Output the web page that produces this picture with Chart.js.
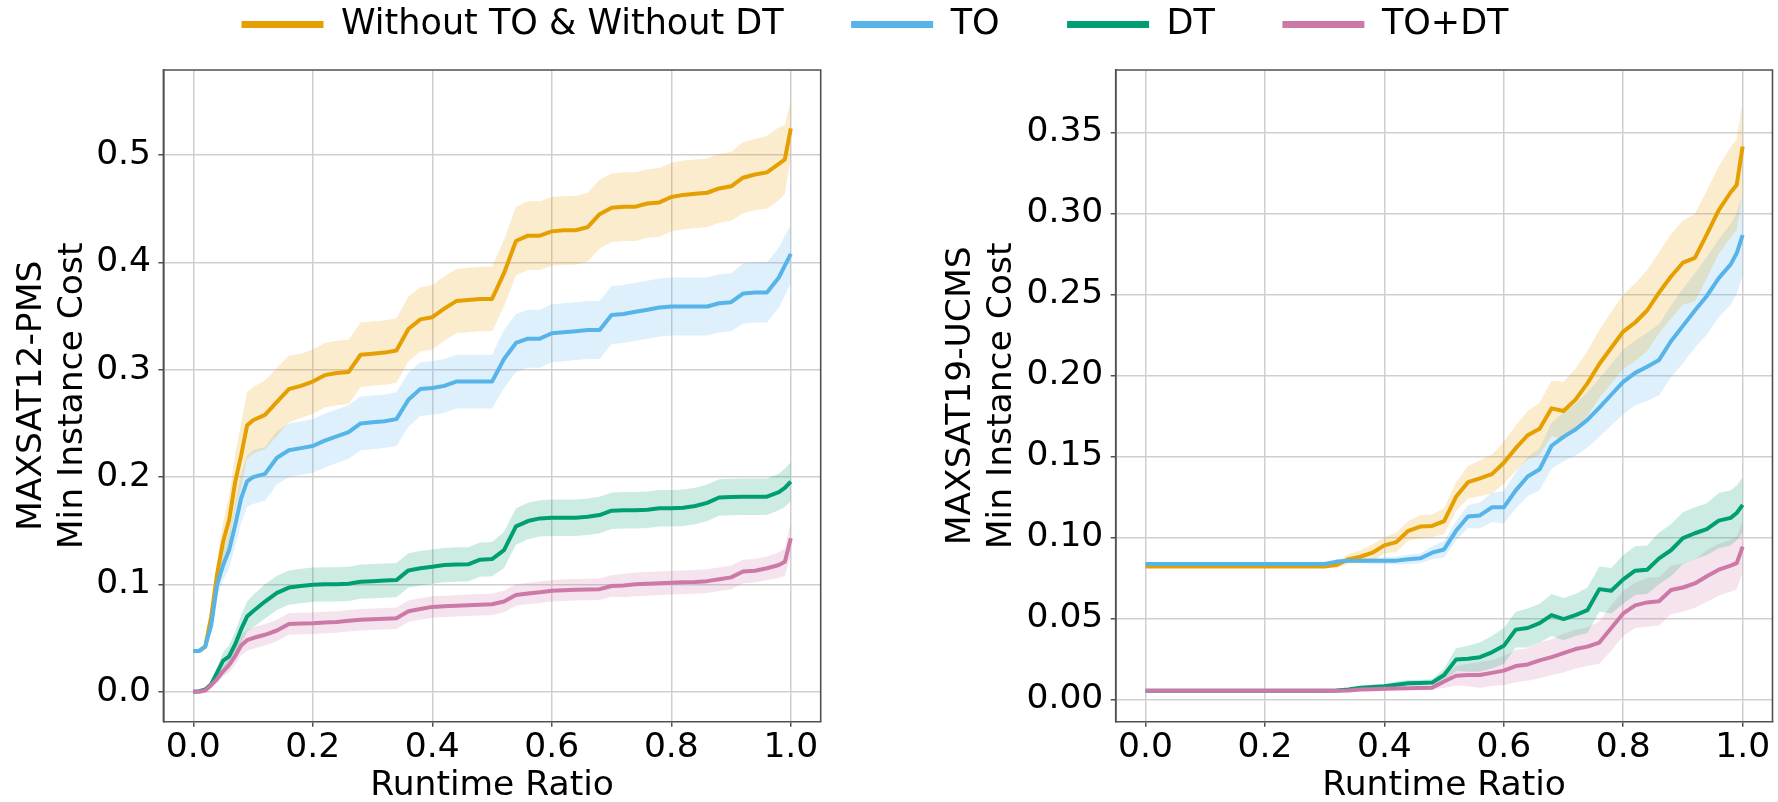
<!DOCTYPE html>
<html>
<head>
<meta charset="utf-8">
<title>Min Instance Cost vs Runtime Ratio</title>
<script src="https://cdn.jsdelivr.net/npm/chart.js@4.4.1/dist/chart.umd.min.js"></script>
<style>
  html, body { margin: 0; padding: 0; background: #fff; }
  #wrap { position: relative; width: 1778px; height: 802px; }
  #pms-chart { position: absolute; left: 0; top: 0; }
  #ucms-chart { position: absolute; left: 900px; top: 0; }
</style>
</head>
<body>
<div id="wrap">
  <canvas id="pms-chart" width="1778" height="802"></canvas>
  <canvas id="ucms-chart" width="878" height="802"></canvas>
</div>
<script>
// Series
const seriesNames = ["Without TO & Without DT", "TO", "DT", "TO+DT"];
const seriesColors = ["#E69F00", "#56B4E9", "#009E73", "#CC79A7"];
const bandColors = ["rgba(230,159,0,0.2)", "rgba(86,180,233,0.2)", "rgba(0,158,115,0.2)", "rgba(204,121,167,0.2)"];

// Tick labels
const ratioTicks = [0, 0.2, 0.4, 0.6, 0.8, 1.0];
const pmsCostTicks = [0, 0.1, 0.2, 0.3, 0.4, 0.5];
const ucmsCostTicks = [0, 0.05, 0.10, 0.15, 0.20, 0.25, 0.30, 0.35];

// MAXSAT12-PMS: runtime ratio samples
const pmsRatio = [0, 0.01, 0.02, 0.03, 0.04, 0.05, 0.06, 0.07, 0.08, 0.09, 0.10,
  0.12, 0.14, 0.16, 0.18, 0.20, 0.22, 0.24, 0.26, 0.28, 0.30,
  0.32, 0.34, 0.36, 0.38, 0.40, 0.42, 0.44, 0.46, 0.48, 0.50,
  0.52, 0.54, 0.56, 0.58, 0.60, 0.62, 0.64, 0.66, 0.68, 0.70,
  0.72, 0.74, 0.76, 0.78, 0.80, 0.82, 0.84, 0.86, 0.88, 0.90,
  0.92, 0.94, 0.96, 0.98, 0.99, 1.00];

// mean min instance cost
const pmsPlain = [0.038, 0.038, 0.042, 0.070, 0.110, 0.140, 0.160, 0.195, 0.220, 0.248, 0.253,
  0.258, 0.270, 0.282, 0.285, 0.289, 0.295, 0.297, 0.298, 0.314, 0.315,
  0.316, 0.318, 0.338, 0.347, 0.349, 0.357, 0.364, 0.365, 0.366, 0.366,
  0.390, 0.420, 0.425, 0.425, 0.429, 0.430, 0.430, 0.433, 0.445, 0.451,
  0.452, 0.452, 0.455, 0.456, 0.461, 0.463, 0.464, 0.465, 0.469, 0.471,
  0.479, 0.482, 0.484, 0.492, 0.496, 0.525];
const pmsTO = [0.038, 0.038, 0.042, 0.062, 0.100, 0.118, 0.132, 0.155, 0.180, 0.196, 0.200,
  0.203, 0.218, 0.225, 0.227, 0.229, 0.234, 0.238, 0.242, 0.250, 0.251,
  0.252, 0.254, 0.272, 0.282, 0.283, 0.285, 0.289, 0.289, 0.289, 0.289,
  0.310, 0.325, 0.329, 0.329, 0.334, 0.335, 0.336, 0.337, 0.337, 0.351,
  0.352, 0.354, 0.356, 0.358, 0.359, 0.359, 0.359, 0.359, 0.362, 0.363,
  0.371, 0.372, 0.372, 0.386, 0.397, 0.408];
const pmsDT = [0, 0.0005, 0.002, 0.007, 0.018, 0.029, 0.033, 0.044, 0.058, 0.070, 0.075,
  0.084, 0.092, 0.097, 0.0985, 0.0997, 0.100, 0.100, 0.1005, 0.1025, 0.103,
  0.1035, 0.104, 0.113, 0.115, 0.1165, 0.118, 0.1185, 0.1187, 0.123, 0.1236,
  0.132, 0.154, 0.159, 0.1615, 0.162, 0.162, 0.162, 0.163, 0.1646, 0.1687,
  0.169, 0.169, 0.1695, 0.171, 0.171, 0.1715, 0.173, 0.176, 0.181, 0.1815,
  0.1817, 0.1817, 0.1817, 0.186, 0.190, 0.1957];
const pmsTODT = [0, 0, 0.001, 0.006, 0.012, 0.019, 0.025, 0.033, 0.043, 0.048, 0.050,
  0.053, 0.057, 0.063, 0.0635, 0.0637, 0.0645, 0.065, 0.066, 0.067, 0.0675,
  0.068, 0.0685, 0.075, 0.077, 0.079, 0.0795, 0.080, 0.0805, 0.081, 0.0815,
  0.084, 0.090, 0.0915, 0.0926, 0.094, 0.0945, 0.095, 0.0952, 0.0955, 0.0985,
  0.099, 0.100, 0.1005, 0.101, 0.1016, 0.102, 0.1023, 0.103, 0.1047, 0.1065,
  0.112, 0.1127, 0.115, 0.118, 0.121, 0.1429];

// std of the cost (shaded band)
const pmsPlainStd = [0.001, 0.001, 0.002, 0.006, 0.012, 0.018, 0.022, 0.026, 0.030, 0.031, 0.031,
  0.032, 0.032, 0.031, 0.030, 0.030, 0.030, 0.030, 0.030, 0.030, 0.030,
  0.030, 0.030, 0.030, 0.030, 0.030, 0.030, 0.030, 0.030, 0.030, 0.030,
  0.031, 0.032, 0.032, 0.032, 0.032, 0.032, 0.032, 0.032, 0.032, 0.032,
  0.032, 0.032, 0.032, 0.032, 0.032, 0.032, 0.032, 0.032, 0.032, 0.032,
  0.033, 0.033, 0.034, 0.034, 0.032, 0.027];
const pmsTOStd = [0.001, 0.001, 0.002, 0.006, 0.010, 0.014, 0.017, 0.020, 0.023, 0.024, 0.025,
  0.025, 0.025, 0.025, 0.025, 0.025, 0.025, 0.025, 0.025, 0.025, 0.025,
  0.025, 0.025, 0.025, 0.025, 0.025, 0.025, 0.025, 0.025, 0.025, 0.025,
  0.027, 0.027, 0.027, 0.027, 0.027, 0.027, 0.027, 0.027, 0.027, 0.027,
  0.027, 0.027, 0.027, 0.027, 0.027, 0.027, 0.027, 0.027, 0.027, 0.027,
  0.028, 0.028, 0.028, 0.028, 0.028, 0.027];
const pmsDTStd = [0, 0.0005, 0.001, 0.003, 0.005, 0.008, 0.010, 0.012, 0.013, 0.014, 0.015,
  0.016, 0.016, 0.016, 0.016, 0.016, 0.016, 0.016, 0.016, 0.016, 0.016,
  0.016, 0.016, 0.016, 0.016, 0.016, 0.016, 0.016, 0.016, 0.016, 0.016,
  0.017, 0.017, 0.017, 0.017, 0.017, 0.017, 0.017, 0.017, 0.017, 0.017,
  0.017, 0.017, 0.017, 0.017, 0.017, 0.017, 0.017, 0.017, 0.017, 0.017,
  0.017, 0.017, 0.017, 0.017, 0.018, 0.018];
const pmsTODTStd = [0, 0, 0.001, 0.002, 0.004, 0.005, 0.007, 0.008, 0.009, 0.010, 0.010,
  0.010, 0.010, 0.010, 0.010, 0.010, 0.010, 0.010, 0.010, 0.010, 0.010,
  0.010, 0.010, 0.010, 0.010, 0.010, 0.010, 0.010, 0.010, 0.010, 0.010,
  0.010, 0.010, 0.010, 0.010, 0.010, 0.010, 0.010, 0.010, 0.010, 0.010,
  0.011, 0.011, 0.011, 0.011, 0.011, 0.011, 0.011, 0.011, 0.011, 0.011,
  0.011, 0.011, 0.011, 0.012, 0.013, 0.016];

// MAXSAT19-UCMS: runtime ratio samples
const ucmsRatio = [0, 0.05, 0.10, 0.15, 0.20, 0.25,
  0.30, 0.32, 0.34, 0.36, 0.38, 0.40, 0.42, 0.44, 0.46, 0.48,
  0.50, 0.52, 0.54, 0.56, 0.58, 0.60, 0.62, 0.64, 0.66, 0.68,
  0.70, 0.72, 0.74, 0.76, 0.78, 0.80, 0.82, 0.84, 0.86, 0.88,
  0.90, 0.92, 0.94, 0.96, 0.98, 0.99, 1.00];

const ucmsPlain = [0.082, 0.082, 0.082, 0.082, 0.082, 0.082,
  0.082, 0.083, 0.0865, 0.088, 0.0905, 0.095, 0.097, 0.104, 0.1066, 0.107,
  0.110, 0.125, 0.134, 0.1364, 0.139, 0.146, 0.155, 0.163, 0.167, 0.1796,
  0.178, 0.185, 0.195, 0.207, 0.217, 0.227, 0.2326, 0.240, 0.251, 0.261,
  0.2695, 0.2725, 0.287, 0.302, 0.313, 0.3175, 0.3412];
const ucmsTO = [0.0835, 0.0835, 0.0835, 0.0835, 0.0835, 0.0835,
  0.0835, 0.085, 0.0855, 0.0855, 0.0855, 0.0855, 0.0856, 0.0864, 0.087, 0.0905,
  0.0925, 0.104, 0.1128, 0.1135, 0.1185, 0.1185, 0.129, 0.1375, 0.142, 0.1565,
  0.162, 0.1665, 0.1725, 0.180, 0.188, 0.196, 0.2015, 0.2053, 0.2095, 0.221,
  0.2305, 0.2400, 0.249, 0.260, 0.2685, 0.2753, 0.2866];
const ucmsDT = [0.0053, 0.0053, 0.0053, 0.0053, 0.0053, 0.0053,
  0.0053, 0.0055, 0.006, 0.0072, 0.0076, 0.008, 0.009, 0.0099, 0.0101, 0.0103,
  0.015, 0.0245, 0.025, 0.026, 0.029, 0.033, 0.043, 0.044, 0.047, 0.052,
  0.0495, 0.052, 0.055, 0.068, 0.067, 0.074, 0.0794, 0.080, 0.087, 0.092,
  0.0995, 0.1025, 0.105, 0.1103, 0.112, 0.115, 0.120];
const ucmsTODT = [0.0053, 0.0053, 0.0053, 0.0053, 0.0053, 0.0053,
  0.0053, 0.0053, 0.0055, 0.006, 0.0062, 0.0065, 0.0067, 0.0068, 0.007, 0.0072,
  0.011, 0.0145, 0.015, 0.015, 0.0163, 0.0177, 0.0205, 0.0215, 0.024, 0.026,
  0.0285, 0.031, 0.0325, 0.035, 0.044, 0.053, 0.058, 0.0598, 0.0605, 0.0675,
  0.069, 0.0715, 0.076, 0.080, 0.0825, 0.084, 0.0942];

const ucmsPlainStd = [0.0005, 0.0005, 0.0005, 0.0005, 0.0005, 0.0005,
  0.001, 0.002, 0.003, 0.004, 0.005, 0.005, 0.006, 0.006, 0.007, 0.007,
  0.008, 0.009, 0.010, 0.011, 0.012, 0.013, 0.014, 0.015, 0.016, 0.017,
  0.018, 0.019, 0.020, 0.021, 0.022, 0.023, 0.024, 0.025, 0.025, 0.026,
  0.026, 0.027, 0.027, 0.027, 0.028, 0.028, 0.028];
const ucmsTOStd = [0.0005, 0.0005, 0.0005, 0.0005, 0.0005, 0.0005,
  0.0005, 0.001, 0.001, 0.0015, 0.002, 0.002, 0.0025, 0.003, 0.003, 0.004,
  0.005, 0.006, 0.007, 0.008, 0.009, 0.010, 0.011, 0.012, 0.013, 0.014,
  0.015, 0.016, 0.017, 0.018, 0.019, 0.020, 0.020, 0.021, 0.022, 0.022,
  0.023, 0.023, 0.024, 0.024, 0.025, 0.025, 0.025];
const ucmsDTStd = [0.0005, 0.0005, 0.0005, 0.0005, 0.0005, 0.0005,
  0.0005, 0.001, 0.001, 0.001, 0.0015, 0.0015, 0.002, 0.002, 0.002, 0.002,
  0.004, 0.007, 0.008, 0.009, 0.010, 0.011, 0.011, 0.012, 0.012, 0.013,
  0.013, 0.013, 0.014, 0.014, 0.014, 0.015, 0.015, 0.015, 0.016, 0.016,
  0.016, 0.016, 0.016, 0.017, 0.017, 0.017, 0.017];
const ucmsTODTStd = [0.0005, 0.0005, 0.0005, 0.0005, 0.0005, 0.0005,
  0.0005, 0.001, 0.001, 0.001, 0.001, 0.001, 0.001, 0.001, 0.001, 0.001,
  0.004, 0.006, 0.007, 0.008, 0.008, 0.009, 0.010, 0.010, 0.011, 0.011,
  0.012, 0.012, 0.012, 0.013, 0.014, 0.014, 0.014, 0.015, 0.015, 0.015,
  0.015, 0.015, 0.016, 0.016, 0.016, 0.016, 0.016];

const FONT = "DejaVu Sans";
const FONT_SIZE = 34.5;
const LEGEND_FONT_SIZE = 35;
const GRID_COLOR = "#cfcfcf";
const SPINE_COLOR = "#505050";

Chart.defaults.font.family = FONT;
Chart.defaults.color = "#000";

// mean line + lower/upper band per method
function makeDatasets(xs, means, stds) {
  const sets = [];
  means.forEach((m, s) => {
    sets.push({
      label: seriesNames[s],
      data: xs.map((x, i) => ({ x: x, y: m[i] })),
      borderColor: seriesColors[s],
      backgroundColor: seriesColors[s],
      borderWidth: 4,
      borderJoinStyle: "round",
      pointRadius: 0,
      fill: false,
      order: 3 - s,
      xAxisID: "x",
      yAxisID: "y"
    });
    sets.push({
      label: seriesNames[s] + " lower",
      data: xs.map((x, i) => ({ x: x, y: m[i] - stds[s][i] })),
      borderColor: "rgba(0,0,0,0)",
      borderWidth: 0,
      pointRadius: 0,
      fill: false,
      order: 10,
      xAxisID: "x",
      yAxisID: "y"
    });
    sets.push({
      label: seriesNames[s] + " upper",
      data: xs.map((x, i) => ({ x: x, y: m[i] + stds[s][i] })),
      borderColor: "rgba(0,0,0,0)",
      backgroundColor: bandColors[s],
      borderWidth: 0,
      pointRadius: 0,
      fill: "-1",
      order: 10,
      xAxisID: "x",
      yAxisID: "y"
    });
  });
  return sets;
}

// top and right spines
const frameEdges = {
  id: "frameEdges",
  afterDatasetsDraw(chart) {
    const { ctx, chartArea: a } = chart;
    ctx.save();
    ctx.strokeStyle = SPINE_COLOR;
    ctx.lineWidth = 1.6;
    ctx.beginPath();
    ctx.moveTo(a.left, a.bottom);
    ctx.lineTo(a.left, a.top);
    ctx.lineTo(a.right, a.top);
    ctx.lineTo(a.right, a.bottom);
    ctx.stroke();
    ctx.restore();
  }
};

function ratioAxis() {
  return {
    type: "linear",
    position: "bottom",
    min: -0.05,
    max: 1.05,
    afterBuildTicks: s => { s.ticks = ratioTicks.map(v => ({ value: v })); },
    afterFit: s => { s.height = 80.3; },
    ticks: {
      font: { size: FONT_SIZE, lineHeight: 1 },
      padding: 4,
      maxRotation: 0,
      autoSkip: false,
      callback: v => v.toFixed(1)
    },
    grid: { color: GRID_COLOR, lineWidth: 1.5, tickColor: SPINE_COLOR, tickWidth: 1.5, tickLength: 5 },
    border: { color: SPINE_COLOR, width: 1.6 },
    title: {
      display: true,
      text: "Runtime Ratio",
      font: { size: FONT_SIZE, lineHeight: 0.9 },
      padding: { top: 0, bottom: 0 }
    }
  };
}

function costAxis(title, min, max, tickValues, digits, width, titlePad) {
  return {
    type: "linear",
    position: "left",
    min: min,
    max: max,
    afterBuildTicks: s => { s.ticks = tickValues.map(v => ({ value: v })); },
    afterFit: s => { s.width = width; },
    ticks: {
      font: { size: FONT_SIZE, lineHeight: 1 },
      padding: 7.4,
      callback: v => v.toFixed(digits)
    },
    grid: { color: GRID_COLOR, lineWidth: 1.5, tickColor: SPINE_COLOR, tickWidth: 1.5, tickLength: 5 },
    border: { color: SPINE_COLOR, width: 1.6 },
    title: {
      display: true,
      text: title,
      font: { size: FONT_SIZE, lineHeight: 1.18 },
      padding: { top: titlePad, bottom: 0 }
    }
  };
}

// empty axes used only to reserve room around the left panel
function spacerAxis(position, size) {
  return {
    type: "linear",
    position: position,
    display: true,
    ticks: { display: false },
    grid: { display: false, drawTicks: false },
    border: { display: false },
    afterFit: s => {
      if (position === "top") s.height = size; else s.width = size;
    }
  };
}

new Chart(document.getElementById("pms-chart"), {
  type: "line",
  data: {
    datasets: makeDatasets(pmsRatio, [pmsPlain, pmsTO, pmsDT, pmsTODT],
      [pmsPlainStd, pmsTOStd, pmsDTStd, pmsTODTStd])
  },
  options: {
    responsive: false,
    animation: false,
    events: [],
    layout: { padding: { top: -60.5, right: 28, bottom: 0, left: 0 } },
    scales: {
      x: ratioAxis(),
      y: costAxis(["MAXSAT12-PMS", "Min Instance Cost"], -0.028, 0.5794, pmsCostTicks, 1, 163.4, 12.1),
      gapTop: spacerAxis("top", 18),
      gapRight: spacerAxis("right", 929.3)
    },
    plugins: {
      tooltip: { enabled: false },
      legend: {
        display: true,
        position: "top",
        labels: {
          boxWidth: 82,
          boxHeight: 7,
          padding: 67.5,
          color: "#000",
          font: { size: LEGEND_FONT_SIZE },
          generateLabels: () => seriesNames.map((name, i) => ({
            text: name,
            fillStyle: seriesColors[i],
            strokeStyle: seriesColors[i],
            lineWidth: 0,
            hidden: false,
            datasetIndex: i * 3
          }))
        }
      }
    }
  },
  plugins: [frameEdges]
});

new Chart(document.getElementById("ucms-chart"), {
  type: "line",
  data: {
    datasets: makeDatasets(ucmsRatio, [ucmsPlain, ucmsTO, ucmsDT, ucmsTODT],
      [ucmsPlainStd, ucmsTOStd, ucmsDTStd, ucmsTODTStd])
  },
  options: {
    responsive: false,
    animation: false,
    events: [],
    layout: { padding: { top: 70, right: 5.5, bottom: 0, left: 0 } },
    scales: {
      x: ratioAxis(),
      y: costAxis(["MAXSAT19-UCMS", "Min Instance Cost"], -0.01383, 0.38846, ucmsCostTicks, 2, 215.7, 41.1)
    },
    plugins: {
      tooltip: { enabled: false },
      legend: { display: false }
    }
  },
  plugins: [frameEdges]
});
</script>
</body>
</html>
